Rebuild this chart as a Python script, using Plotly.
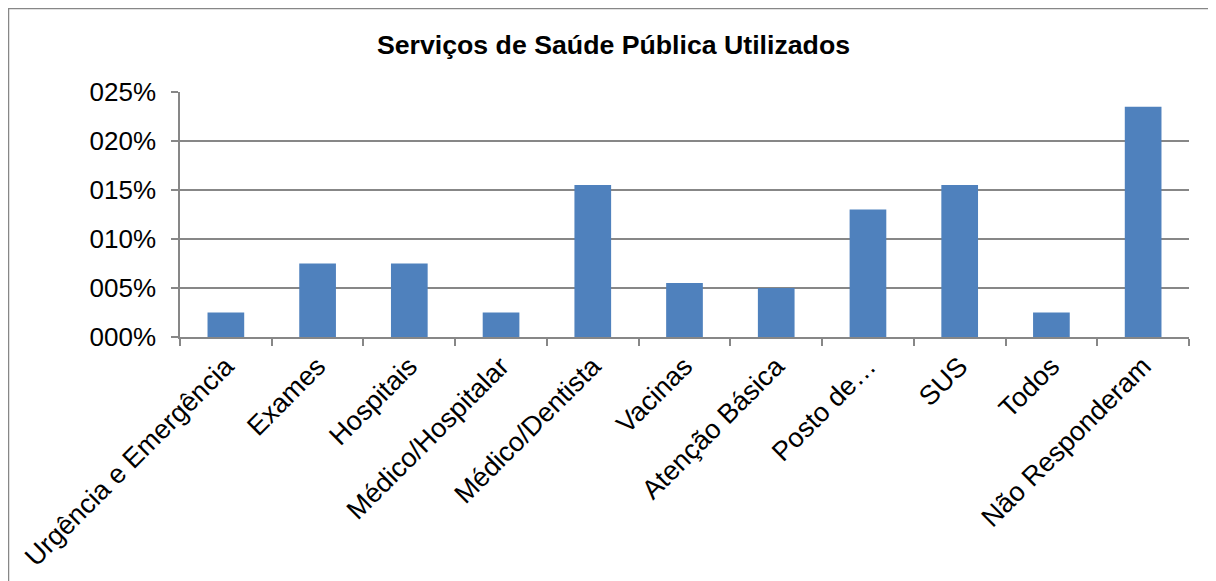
import plotly.graph_objects as go

categories = ["Urgência e Emergência", "Exames", "Hospitais", "Médico/Hospitalar",
              "Médico/Dentista", "Vacinas", "Atenção Básica", "Posto de…", "SUS",
              "Todos", "Não Responderam"]
values = [2.5, 7.5, 7.5, 2.5, 15.5, 5.5, 5.0, 13.0, 15.5, 2.5, 23.5]
y_tickvals = [0, 5, 10, 15, 20, 25]
y_ticktext = ["000%", "005%", "010%", "015%", "020%", "025%"]
title_text = "Serviços de Saúde Pública Utilizados"

FONT = "Liberation Sans, Arial, sans-serif"
GRAY = "#878787"

fig = go.Figure(go.Bar(
    x=categories, y=values,
    marker=dict(color="#4F81BD", line=dict(width=0)),
))

OFF = 8  # page body margin
W, H = 1216, 581
L, T = 180 - OFF, 92 - OFF
R = W - (1189 - OFF)
B = H - (337 - OFF)
pw, ph = W - L - R, H - T - B

px_x = lambda v: (v - L) / pw
px_y = lambda v: ((H - B) - v) / ph

fig.update_layout(
    width=W, height=H,
    margin=dict(l=L, r=R, t=T, b=B, autoexpand=False),
    paper_bgcolor="white", plot_bgcolor="white",
    bargap=0.6,
    showlegend=False,
    title=dict(text="<b>" + title_text + "</b>", x=(613.5 - OFF) / W, xref="container",
               xanchor="center", y=1 - (45 - OFF) / H, yref="container", yanchor="middle",
               font=dict(family=FONT, size=26.7, color="black")),
    font=dict(family=FONT, color="black"),
    xaxis=dict(type="category", tickangle=-45, tickson="boundaries", ticks="outside",
               ticklen=7, tickcolor=GRAY, tickwidth=1.5, showline=True, linecolor=GRAY,
               linewidth=1.5, showgrid=False, tickfont=dict(size=27, color="black"),
               ticklabelstandoff=1),
    yaxis=dict(range=[0, 25], tickvals=y_tickvals, ticktext=y_ticktext, ticks="outside",
               ticklen=7, tickcolor=GRAY, tickwidth=1.5, showline=True, linecolor=GRAY,
               linewidth=1.5, showgrid=True, gridcolor=GRAY, gridwidth=1.5, zeroline=False,
               tickfont=dict(size=26, color="black"), ticklabelstandoff=10),
    shapes=[
        dict(type="line", xref="paper", yref="paper",
             x0=px_x(0), x1=px_x(W + 40), y0=px_y(0.5), y1=px_y(0.5),
             line=dict(color=GRAY, width=1.5), layer="below"),
        dict(type="line", xref="paper", yref="paper",
             x0=px_x(0.5), x1=px_x(0.5), y0=px_y(0), y1=px_y(H + 40),
             line=dict(color=GRAY, width=1.5), layer="below"),
    ],
)

fig.write_html("out.html")
